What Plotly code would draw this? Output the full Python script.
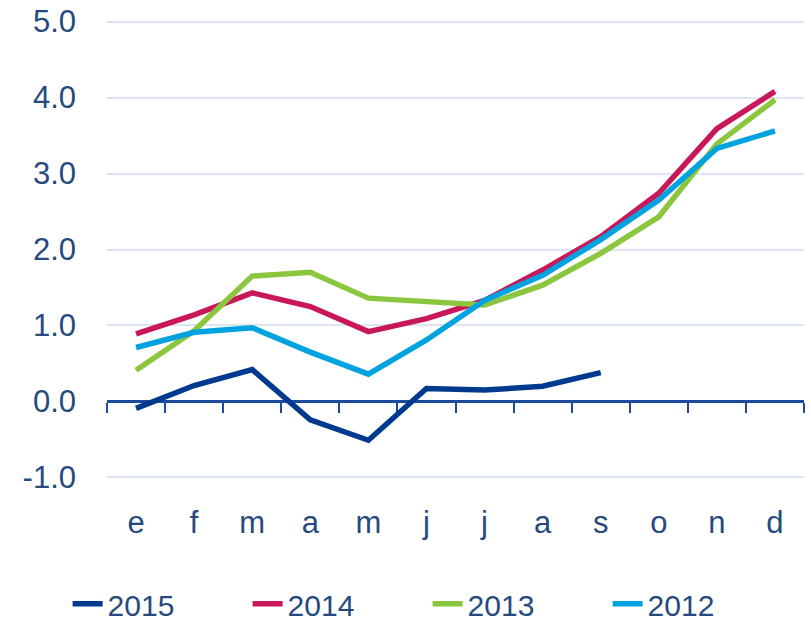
import plotly.graph_objects as go

months = ["e", "f", "m", "a", "m", "j", "j", "a", "s", "o", "n", "d"]
y2015 = [-0.09, 0.21, 0.42, -0.24, -0.51, 0.17, 0.15, 0.20, 0.38]
y2014 = [0.89, 1.14, 1.43, 1.25, 0.92, 1.09, 1.33, 1.73, 2.17, 2.74, 3.59, 4.08]
y2013 = [0.41, 0.93, 1.65, 1.70, 1.36, 1.31, 1.27, 1.53, 1.95, 2.43, 3.39, 3.97]
y2012 = [0.71, 0.91, 0.97, 0.65, 0.36, 0.81, 1.33, 1.66, 2.13, 2.65, 3.33, 3.56]
yticks = [-1, 0, 1, 2, 3, 4, 5]

series = [
    ("2015", y2015, "#003A8F"),
    ("2014", y2014, "#C8185A"),
    ("2013", y2013, "#8CC63E"),
    ("2012", y2012, "#00A3E0"),
]

TEXT = "#264A7E"
AXIS = "#1C4A9C"
FONT = "Liberation Sans, Arial, sans-serif"
idx = list(range(len(months)))
YMIN, YMAX = -1.02, 5.02

fig = go.Figure()
for name, vals, color in series:
    fig.add_trace(go.Scatter(
        x=idx[:len(vals)], y=vals, mode="lines", name=name,
        line=dict(color=color, width=5.5),
    ))
# helper (empty) trace so the zero-axis with category ticks is rendered
fig.add_trace(go.Scatter(x=[-0.5, 11.5], y=[None, None], xaxis="x2",
                         showlegend=False, hoverinfo="skip", mode="lines"))

fig.update_layout(
    width=811, height=621,
    margin=dict(l=107, r=7, t=20, b=142, autoexpand=False),
    plot_bgcolor="white", paper_bgcolor="white",
    font=dict(family=FONT, size=31, color=TEXT),
    showlegend=True,
    legend=dict(orientation="h", x=-0.0565, xanchor="left", y=-0.272, yanchor="middle",
                entrywidth=135, entrywidthmode="pixels", bgcolor="rgba(0,0,0,0)",
                font=dict(size=30, color=TEXT), itemwidth=30),
    xaxis=dict(
        range=[-0.5, 11.5], tickvals=idx, ticktext=months,
        showgrid=False, showline=False, zeroline=False, ticks="",
        ticklabelstandoff=22, automargin=False,
    ),
    xaxis2=dict(
        overlaying="x", anchor="free", position=(0 - YMIN) / (YMAX - YMIN),
        range=[-0.5, 11.5],
        tickvals=[i - 0.5 for i in range(13)], ticks="outside", ticklen=10,
        tickwidth=2, tickcolor=AXIS, showline=True, linecolor=AXIS,
        linewidth=2.5, showticklabels=False, showgrid=False, zeroline=False,
        layer="below traces", automargin=False,
    ),
    yaxis=dict(
        range=[YMIN, YMAX], tickvals=yticks, ticktext=[f"{v:.1f}" for v in yticks],
        showgrid=True, gridcolor="#DCE5F0", gridwidth=2, zeroline=False,
        showline=False, ticks="", ticklabelstandoff=30, automargin=False,
    ),
)

fig.write_html("out.html", config={"displayModeBar": False},
               post_script="document.body.style.margin='0';document.body.style.padding='0';")
